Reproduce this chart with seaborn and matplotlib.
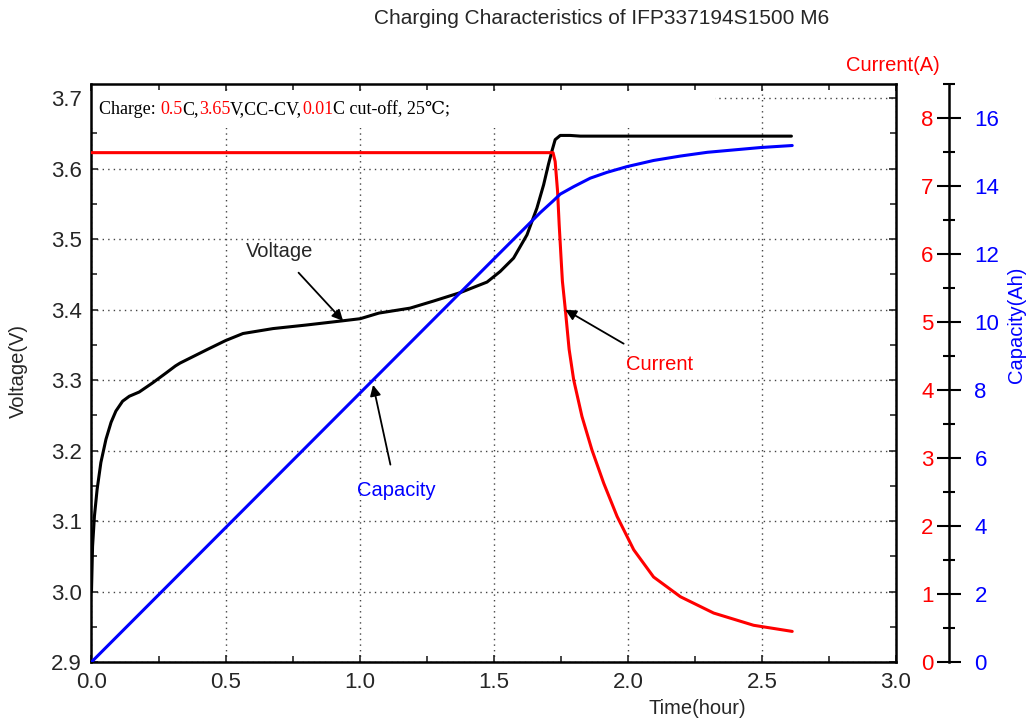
import matplotlib
matplotlib.use("Agg")
import matplotlib.pyplot as plt
import seaborn as sns
from matplotlib.patches import Rectangle
from matplotlib.offsetbox import TextArea, HPacker, AnnotationBbox
from matplotlib.ticker import MultipleLocator, FormatStrFormatter

# Dữ liệu
volt_time = [0, 0.004, 0.011, 0.021, 0.035, 0.054, 0.073, 0.091, 0.116, 0.141, 0.178, 0.228,
             0.278, 0.313, 0.33, 0.43, 0.50, 0.565, 0.677, 0.80, 0.936, 1.002, 1.072, 1.188,
             1.275, 1.375, 1.475, 1.524, 1.574, 1.624, 1.661, 1.686, 1.704, 1.717, 1.729, 1.748,
             1.785, 1.823, 2.0, 2.3, 2.61]
voltage = [3.0, 3.064, 3.107, 3.145, 3.183, 3.216, 3.240, 3.256, 3.270, 3.277, 3.283, 3.296,
           3.310, 3.320, 3.324, 3.343, 3.356, 3.366, 3.373, 3.378, 3.384, 3.387, 3.395, 3.402,
           3.412, 3.424, 3.439, 3.454, 3.473, 3.506, 3.544, 3.577, 3.606, 3.625, 3.641, 3.647,
           3.647, 3.646, 3.646, 3.646, 3.646]

curr_time = [0, 1.721, 1.729, 1.738, 1.744, 1.751, 1.756, 1.767, 1.781, 1.798, 1.829, 1.866,
             1.910, 1.960, 2.022, 2.096, 2.196, 2.320, 2.469, 2.613]
current = [7.49, 7.49, 7.36, 6.92, 6.43, 5.94, 5.6, 5.18, 4.6, 4.15, 3.61, 3.12,
           2.63, 2.14, 1.65, 1.25, 0.96, 0.72, 0.54, 0.45]

cap_time = [0, 0.5, 1.0, 1.5, 1.674, 1.72, 1.748, 1.798, 1.860, 1.922, 1.997, 2.096,
            2.196, 2.296, 2.494, 2.613]
capacity = [0, 3.95, 7.9, 11.85, 13.22, 13.55, 13.76, 13.98, 14.23, 14.40, 14.57, 14.75,
            14.88, 14.99, 15.13, 15.19]

note_parts = ["Charge: ", "0.5", "C,", "3.65", "V,CC-CV,", "0.01", "C cut-off, 25℃;"]
note_colors = ["black", "red", "black", "red", "black", "red", "black"]

sns.set_style("ticks")
plt.rcParams["font.family"] = ["Liberation Sans", "DejaVu Sans"]

fig = plt.figure(figsize=(10.28, 7.27), dpi=100)
ax = fig.add_axes([0.089, 0.0894, 0.7826, 0.7951])
ax2 = ax.twinx()
ax3 = ax.twinx()

# ============================
# Các đường dữ liệu
# ============================
sns.lineplot(x=volt_time, y=voltage, ax=ax, color="black", lw=2.2, sort=False, estimator=None)
sns.lineplot(x=curr_time, y=current, ax=ax2, color="red", lw=2.2, sort=False, estimator=None)
sns.lineplot(x=cap_time, y=capacity, ax=ax3, color="blue", lw=2.2, sort=False, estimator=None)

ax.set_xlim(0, 3.0)
ax.set_ylim(2.9, 3.72)
ax2.set_ylim(0, 8.5)
ax3.set_ylim(0, 17)

# Trục chính (điện áp + thời gian)
ax.xaxis.set_major_locator(MultipleLocator(0.5))
ax.xaxis.set_minor_locator(MultipleLocator(0.25))
ax.yaxis.set_major_locator(MultipleLocator(0.1))
ax.yaxis.set_minor_locator(MultipleLocator(0.05))
ax.xaxis.set_major_formatter(FormatStrFormatter("%.1f"))
ax.yaxis.set_major_formatter(FormatStrFormatter("%.1f"))
ax.tick_params(axis="both", which="both", direction="in", top=True, right=True,
               labelsize=16, width=1.2)
ax.tick_params(axis="both", which="major", length=5, pad=7)
ax.tick_params(axis="both", which="minor", length=4)
ax.grid(True, which="major", color="#444444", linestyle=(0, (1, 3)), lw=1.0)
ax.set_axisbelow(True)
for s in ax.spines.values():
    s.set_linewidth(1.8)
    s.set_color("black")

# Trục dòng điện (chỉ nhãn)
ax2.yaxis.set_major_locator(MultipleLocator(1))
ax2.yaxis.set_minor_locator(MultipleLocator(0.5))
ax2.tick_params(axis="y", which="both", length=0, labelcolor="red", labelsize=16, pad=18)
for s in ax2.spines.values():
    s.set_visible(False)

# Trục dung lượng
ax3.spines["right"].set_position(("outward", 38))
for k, s in ax3.spines.items():
    s.set_visible(k == "right")
ax3.spines["right"].set_linewidth(1.8)
ax3.spines["right"].set_color("black")
ax3.yaxis.set_major_locator(MultipleLocator(2))
ax3.yaxis.set_minor_locator(MultipleLocator(1))
ax3.tick_params(axis="y", which="both", direction="inout", colors="black", labelcolor="blue",
                labelsize=16, width=1.5)
ax3.tick_params(axis="y", which="major", length=17, pad=10)
ax3.tick_params(axis="y", which="minor", length=9)

ax.set_xlabel("")
ax.set_ylabel("")
ax2.set_ylabel("")
ax3.set_ylabel("")

# Nhãn
fig.text(0.585, 0.975, "Charging Characteristics of IFP337194S1500 M6", ha="center", va="center", fontsize=15)
fig.text(0.018, 0.49, "Voltage(V)", rotation=90, ha="center", va="center", fontsize=14.5)
fig.text(0.678, 0.026, "Time(hour)", ha="center", va="center", fontsize=14.5)
fig.text(0.869, 0.91, "Current(A)", ha="center", va="center", fontsize=14.5, color="red")
fig.text(0.989, 0.553, "Capacity(Ah)", rotation=90, ha="center", va="center", fontsize=14.5, color="blue")

# Hộp ghi chú
ax.add_patch(Rectangle((0.0, 0.924), 0.775, 0.062, transform=ax.transAxes,
                       facecolor="white", edgecolor="none", zorder=1))
parts = [TextArea(p, textprops=dict(color=c, fontsize=13,
                                    family=["Liberation Serif", "DejaVu Serif", "DejaVu Sans"]))
         for p, c in zip(note_parts, note_colors)]
box = HPacker(children=parts, align="baseline", pad=0, sep=0)
ab = AnnotationBbox(box, (0.009, 0.955), xycoords="axes fraction", box_alignment=(0, 0.5),
                    frameon=False, zorder=3)
ax.add_artist(ab)

# Mũi tên chú thích
arrow = dict(arrowstyle="-|>", color="black", lw=1.3, mutation_scale=16)
ax.annotate("Voltage", xy=(0.938, 3.384), xytext=(0.70, 3.482), ha="center", va="center",
            fontsize=14.5, arrowprops=dict(arrow, shrinkA=8, shrinkB=0))
ax2.annotate("Current", xy=(1.767, 5.18), xytext=(2.12, 4.37), ha="center", va="center",
             fontsize=14.5, color="red", arrowprops=dict(arrow, shrinkA=12, shrinkB=0))
ax3.annotate("Capacity", xy=(1.05, 8.15), xytext=(1.136, 5.03), ha="center", va="center",
             fontsize=14.5, color="blue", arrowprops=dict(arrow, shrinkA=10, shrinkB=0))

fig.savefig("out.png", dpi=100)
